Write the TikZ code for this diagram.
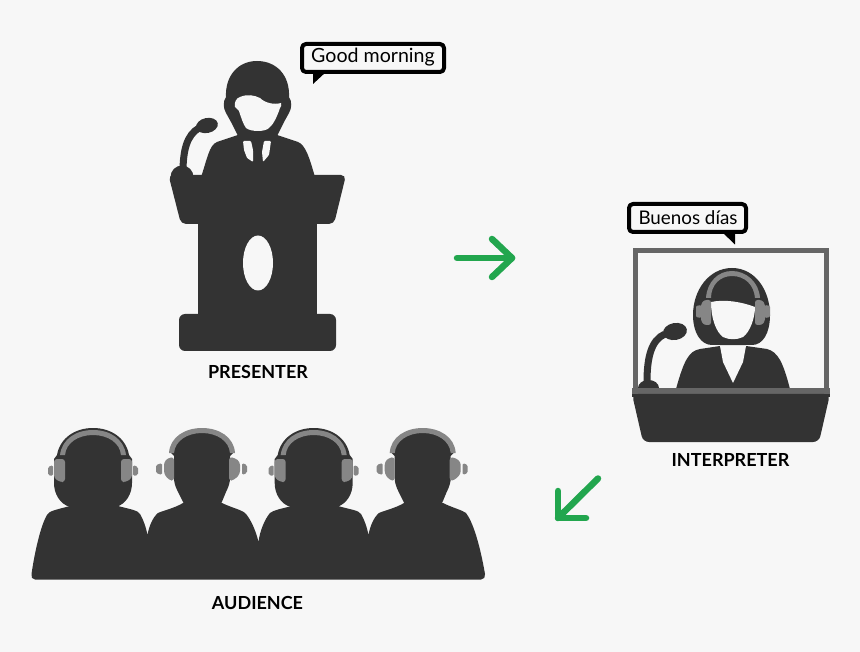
\documentclass[tikz,border=0pt]{standalone}
\usepackage{fontspec}
\setmainfont{Lato}
\definecolor{bgc}{HTML}{F7F7F7}
\definecolor{ink}{HTML}{333333}
\definecolor{gry}{HTML}{868686}
\definecolor{frm}{HTML}{666666}
\definecolor{grn}{HTML}{22A64E}
\tikzset{
  sil/.style={fill=ink,draw=none},
  hole/.style={fill=bgc,draw=none},
  phone/.style={fill=gry,draw=none},
  bubble/.style={draw=black,line width=4pt,fill=bgc,rounded corners=4pt,line join=round},
  say/.style={text=black,inner sep=0pt},
  tag/.style={font=\fontsize{18}{20}\selectfont\bfseries,text=black,inner sep=0pt},
  go/.style={draw=grn,line width=6.5pt,line cap=round,line join=round}
}
\newcommand{\headA}{%
  \fill[sil] (70,507) .. controls (60,504) and (54,494) .. (54,483) -- (54,459) -- (57,455)
    .. controls (60,438) and (75,428) .. (93,428) .. controls (111,428) and (126,438) .. (129,455)
    -- (132,459) -- (132,483) .. controls (132,494) and (126,504) .. (116,507) -- cycle;
  \fill[phone] (60,455) .. controls (62,439) and (76,430) .. (93,430) .. controls (110,430) and (124,439) .. (126,455)
    -- (121,455) .. controls (120,443) and (108,435) .. (93,435) .. controls (78,435) and (66,443) .. (65,455) -- cycle;
  \fill[phone,rounded corners=3pt] (54,459) -- (65,459) -- (65,482) -- (60,482) -- (54,478) -- cycle;
  \fill[phone,rounded corners=3pt] (132,459) -- (121,459) -- (121,482) -- (126,482) -- (132,478) -- cycle;
  \fill[phone,rounded corners=1.5pt] (48,467) -- (53,465) -- (53,476) -- (48,475) -- cycle;
  \fill[phone,rounded corners=1.5pt] (138,467) -- (133,465) -- (133,476) -- (138,475) -- cycle;
}
\newcommand{\headB}{%
  \fill[sil] (184,504) -- (178,492) .. controls (175,486) and (174,482) .. (174,478) -- (174,456) -- (170,452)
    .. controls (172,438) and (186,430) .. (202,430) .. controls (218,430) and (232,438) .. (234,452)
    -- (230,456) -- (230,478) .. controls (230,482) and (229,486) .. (226,492) -- (221,504) -- cycle;
  \fill[phone] (169,453) .. controls (170,437) and (185,428) .. (202,428) .. controls (219,428) and (234,437) .. (235,453)
    -- (230,453) .. controls (229,441) and (217,433) .. (202,433) .. controls (187,433) and (175,441) .. (174,453) -- cycle;
  \fill[phone,rounded corners=3pt] (174,457) -- (174,481) -- (169,480) -- (164,474) -- (164,462) -- (168,458) -- cycle;
  \fill[phone,rounded corners=3pt] (229,457) -- (229,481) -- (234,480) -- (240,474) -- (240,462) -- (235,458) -- cycle;
  \fill[phone,rounded corners=1.5pt] (156,465) -- (162,463) -- (162,475) -- (156,473) -- cycle;
  \fill[phone,rounded corners=1.5pt] (247,465) -- (242,463) -- (242,475) -- (247,473) -- cycle;
}
\begin{document}
\begin{tikzpicture}[x=1pt,y=-1pt]
\useasboundingbox (0,0) rectangle (860,652);
\fill[bgc] (0,0) rectangle (860,652);

% ---------- presenter
\draw[ink,line width=7pt] (183,172) .. controls (183,150) and (187,135) .. (199,128);
\fill[sil,rotate around={12:(207,125.5)}] (207,125.5) ellipse [x radius=11,y radius=7.5];
\fill[sil] (238,136) -- (231,122) -- (226,113) .. controls (223,108) and (223,101) .. (226,97)
  .. controls (225,76) and (238,61) .. (257,61) .. controls (277,61) and (290,76) .. (289,97)
  .. controls (292,101) and (292,108) .. (289,113) -- (284,122) -- (277,136) -- cycle;
\fill[hole] (235,107) .. controls (234,103) and (236,98) .. (240,97) .. controls (247,94) and (254,95) .. (260,98)
  .. controls (265,103) and (274,105) .. (281,103) .. controls (282,105) and (281,107) .. (280,108)
  .. controls (277,117) and (273,125) .. (269,128) .. controls (265,132) and (251,132) .. (246,128)
  .. controls (243,124) and (241,117) .. (239,111) -- cycle;
\fill[sil] (238,135) -- (217,142) .. controls (209,145) and (207,160) .. (201,177) -- (315,177)
  .. controls (310,160) and (306,145) .. (298,142) -- (277,135) -- (268,133) -- (247,133) -- cycle;
\fill[hole,rounded corners=1pt] (243,141) -- (251,141) -- (253,150) -- (253,162) -- (247,158) -- (244,150) -- cycle;
\fill[hole,rounded corners=1pt] (264,141) -- (271,141) -- (269,155) -- (263,162) -- (262,152) -- cycle;
\fill[sil] (182,177) circle [radius=11.5];
\fill[sil,rounded corners=5pt] (168.5,175) -- (346,175) -- (334,224) -- (181,224) -- cycle;
\fill[sil] (198,220) rectangle (317,320);
\fill[sil,rounded corners=6pt] (179,314) rectangle (336,351);
\fill[hole] (258,263) ellipse [x radius=15,y radius=27.5];

\draw[bubble] (302,44) -- (444,44) -- (444,72) -- (302,72) -- cycle;
\fill[black] (313,84) -- (313,72) -- (326,72) -- cycle;
\node[say,font=\fontsize{19.6}{22}\selectfont] (good) at (373,57.5) {Good morning};
\node[tag] (presenter) at (258,372) {PRESENTER};

% ---------- interpreter
\draw[frm,line width=5.5pt] (635.5,390) -- (635.5,250.5) -- (826.5,250.5) -- (826.5,390);
\draw[ink,line width=7pt] (647,382) .. controls (647,358) and (651,340) .. (665,334);
\fill[sil,rotate around={10:(675,331.5)}] (675,331.5) ellipse [x radius=12,y radius=8.5];
\fill[sil] (648.5,388) ellipse [x radius=10.5,y radius=8];
\fill[sil] (732,268) .. controls (755,268) and (770,290) .. (770,315)
  .. controls (770,333) and (763,345) .. (752,345) -- (712,345)
  .. controls (701,345) and (693,333) .. (693,315) .. controls (693,290) and (709,268) .. (732,268) -- cycle;
\fill[hole] (711,302) .. controls (725,299) and (742,302) .. (755,307) .. controls (755,318) and (750,332) .. (743,337)
  .. controls (737,340) and (729,340) .. (723,337) .. controls (716,332) and (711,318) .. (711,302) -- cycle;
\fill[phone] (706,298) .. controls (707,282) and (718,271) .. (732,271) .. controls (746,271) and (759,282) .. (760,298)
  -- (755,298) .. controls (754,285) and (745,276) .. (732,276) .. controls (720,276) and (711,285) .. (711,298) -- cycle;
\fill[phone,rounded corners=2.5pt] (711,300) -- (711,325) -- (704,325) -- (701,321) -- (701,304) -- (704,300) -- cycle;
\fill[phone,rounded corners=2.5pt] (755,300) -- (755,325) -- (762,325) -- (765,321) -- (765,304) -- (762,300) -- cycle;
\fill[phone,rounded corners=1pt] (696,306) -- (701,305) -- (701,318) -- (696,317) -- cycle;
\fill[phone,rounded corners=1pt] (770,306) -- (765,305) -- (765,318) -- (770,317) -- cycle;
\fill[sil] (720,346) -- (700,349) .. controls (689,351) and (684,360) .. (676,389) -- (790,389)
  .. controls (783,362) and (778,352) .. (767,349) -- (746,346) -- cycle;
\fill[hole] (720,346) -- (746,346) -- (743,362) -- (733,383) -- (723,362) -- cycle;
\fill[frm] (632,388) -- (830,388) -- (830,395) -- (632,395) -- cycle;
\fill[sil,rounded corners=6pt] (632,394) -- (643,442) -- (819,442) -- (830,394) -- cycle;
\fill[sil] (632,394) rectangle (830,397);

\draw[bubble] (629,204) -- (746,204) -- (746,232) -- (629,232) -- cycle;
\fill[black] (735,244.5) -- (735,232) -- (722,232) -- cycle;
\node[say,font=\fontsize{18.8}{22}\selectfont] (buenos) at (688,218) {Buenos días};
\node[tag] (interp) at (730.5,460) {INTERPRETER};

% ---------- audience
\fill[sil] (35,579.5) .. controls (32,579.5) and (31,577) .. (31.5,574) .. controls (35,550) and (41,525) .. (47,515)
  .. controls (49,511) and (55,510) .. (70,506) -- (118,506)
  .. controls (133,510) and (137,510) .. (140,514) .. controls (143,519) and (146,527) .. (147.5,535)
  .. controls (149,526) and (153,517) .. (158,513) .. controls (162,511) and (175,508) .. (183,503) -- (222,503)
  .. controls (232,508) and (243,510) .. (246,514) .. controls (251,520) and (256,531) .. (258.5,542)
  .. controls (260,530) and (265,519) .. (270,513) .. controls (274,510) and (280,509) .. (292,506) -- (338,506)
  .. controls (352,510) and (358,510) .. (361,514) .. controls (364,519) and (367,527) .. (368.5,535)
  .. controls (370,526) and (374,517) .. (379,513) .. controls (383,511) and (396,508) .. (404,503) -- (443,503)
  .. controls (453,508) and (462,510) .. (466,513) .. controls (473,522) and (480,545) .. (485,574)
  .. controls (485.5,577) and (484,579.5) .. (481,579.5) -- cycle;
\headA
\headB
\begin{scope}[xshift=220.7pt]
\headA
\headB
\end{scope}
\node[tag] (aud) at (257.5,603) {AUDIENCE};

% ---------- arrows
\coordinate (ra) at (457,258);
\coordinate (rb) at (512,258);
\coordinate (ru) at (492,239);
\coordinate (rd) at (492,277);
\draw[go] (ra) -- (rb);
\draw[go] (ru) -- (rb) -- (rd);
\coordinate (da) at (598,478.5);
\coordinate (db) at (558,518);
\coordinate (du) at (558,491);
\coordinate (dd) at (586,518);
\draw[go] (da) -- (db);
\draw[go] (du) -- (db) -- (dd);
\end{tikzpicture}
\end{document}
